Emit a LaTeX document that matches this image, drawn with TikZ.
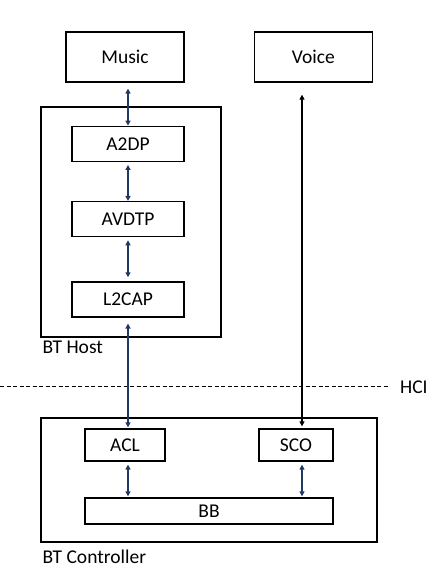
\documentclass[tikz,border=0pt]{standalone}
\usepackage{fontspec}
\setmainfont{Carlito}
\usetikzlibrary{positioning,arrows.meta}
\definecolor{LinkBlue}{HTML}{1F3864}
\tikzstyle{AppBox}=[rectangle, draw=black, line width=1.3pt, minimum width=118pt, minimum height=50pt, inner sep=0pt, font=\fontsize{19.5}{23}\selectfont]
\tikzstyle{LayerBox}=[rectangle, draw=black, line width=1.3pt, minimum width=112pt, minimum height=35pt, inner sep=0pt, font=\fontsize{19.5}{23}\selectfont]
\tikzstyle{GroupBox}=[rectangle, draw=black, line width=1.3pt, inner sep=0pt]
\tikzstyle{GroupLabel}=[anchor=base west, inner sep=0pt, font=\fontsize{19.5}{23}\selectfont]
\tikzstyle{Link}=[{Triangle[length=5pt,width=5pt]}-{Triangle[length=5pt,width=5pt]}, draw=LinkBlue, line width=1.4pt]
\tikzstyle{VoiceLink}=[{Triangle[length=5pt,width=5pt]}-{Triangle[length=5pt,width=5pt]}, draw=black, line width=1.4pt]

\begin{document}
\begin{tikzpicture}
			\useasboundingbox (0,0) rectangle (442pt,-571pt);
			%Nodes
			\node[AppBox]		(music)		at (125pt,-57pt)				{Music};
			\node[AppBox]		(voice)		[right=69pt of music]			{Voice};

			\node[LayerBox]	(a2dp)		[below=43pt of music, xshift=3pt]	{A2DP};
			\node[LayerBox]	(avdtp)		[below=39pt of a2dp]			{AVDTP};
			\node[LayerBox]	(l2cap)		[below=44pt of avdtp]			{L2CAP};
			\node[GroupBox, minimum width=180pt, minimum height=230pt]	(host)	at (131pt,-222pt) {};
			\node[GroupLabel]	(host_lbl)	at ([xshift=2pt,yshift=-16pt]host.south west)	{BT Host};

			\node[GroupBox, minimum width=336pt, minimum height=124pt]	(controller)	at (209pt,-480pt) {};
			\node[LayerBox, minimum width=80pt, minimum height=32pt]	(acl)	at (125pt,-445pt)	{ACL};
			\node[LayerBox, minimum width=74pt, minimum height=32pt]	(sco)	at (296pt,-445pt)	{SCO};
			\node[LayerBox, minimum width=248pt, minimum height=26pt]	(bb)	at (209pt,-511pt)	{BB};
			\node[GroupLabel]	(controller_lbl)	at ([xshift=2pt,yshift=-21pt]controller.south west)	{BT Controller};

			%HCI
			\coordinate (hci_start) at (0pt,-386.5pt);
			\coordinate (hci_end) at (388pt,-386.5pt);
			\draw[dashed, line width=0.8pt, dash pattern=on 4pt off 2.5pt] (hci_start) -- (hci_end);
			\node[GroupLabel]	(hci)		at ([xshift=12pt,yshift=-7pt]hci_end)	{HCI};

			%Ends
			\coordinate (sco_top) at ([xshift=6pt]sco.north);
			\coordinate (sco_bottom) at ([xshift=6pt]sco.south);

			%Lines
			\draw[Link, shorten <=6pt] (music.south -| a2dp.north) -- (a2dp.north);
			\draw[Link, shorten <=3pt] (a2dp.south) -- (avdtp.north);
			\draw[Link, shorten <=3pt, shorten >=4pt] (avdtp.south) -- (l2cap.north);
			\draw[Link, shorten <=6pt, shorten >=1pt] (l2cap.south) -- (l2cap.south |- acl.north);
			\draw[VoiceLink, shorten <=12pt, shorten >=2pt] (voice.south -| sco_top) -- (sco_top);
			\draw[Link, shorten <=3pt, shorten >=1pt] (acl.south -| l2cap.south) -- (bb.north -| l2cap.south);
			\draw[Link, shorten <=3pt, shorten >=1pt] (sco_bottom) -- (bb.north -| sco_bottom);

		\end{tikzpicture}
\end{document}
